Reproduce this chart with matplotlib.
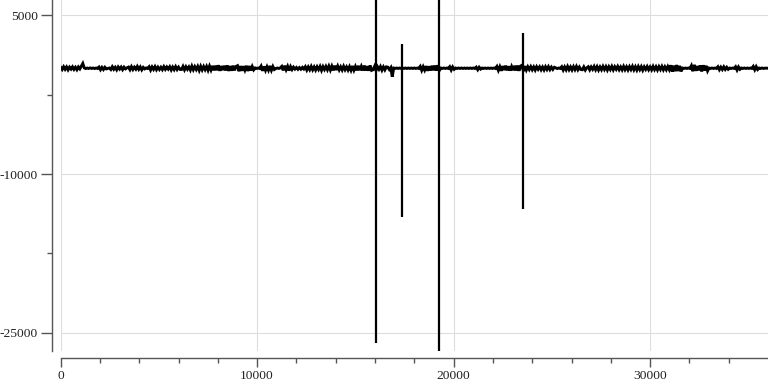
import numpy as np
import matplotlib
matplotlib.use("Agg")
import matplotlib.pyplot as plt
from matplotlib.ticker import FixedLocator, MultipleLocator

# sample spacing of the noisy trace (x units)
STEP = 75

# noisy trace, segment by segment (y units)
noise_segments = [
    [80, -120, 140, -100, 120, -150, 100, -80, 130, -110, 90, -140, 120, -60, 200, 450],
    [30, -30, 20, -20, 30, -20, 20, -30, 20, -20],
    [110, -140, 80, -120, 90, -60],
    [-20, 20],
    [-120, 140, -100, 90, -150, 120, -80, 110, -130, 100, -60, 40,
     110, -140, 150, -120, 100, -90, 170, -100, 120, -150, 80, -60,
     30, -20, 140, -170, 120, -110, 150, -140, 100, -120, 90, -130,
     150, -100, 120, -80, 140, -160, 110, -130, 150, -120, 100, -110],
    [-120, 170, -150, 140, -100, 120, -170, 200, -140, 150,
     -120, 170, -200, 180, -150, 160, -130, 170, -190, 200,
     -160, 220, -200, 240, -190, 280, -240, 200, -170, 230,
     -210, 260, -250, 200, -230, 240, -200, 170],
    [240, -280, 200, -240, 190, -170, 230, -260, 210, -220, 160, -150],
    [30, -20, 20, -30],
    [200, -240, 170, -200, 140, -180, 220, -190, 160, -120],
    [-30, 20, -20, 30],
    [170, -200, 240, -140, 180, -220, 150, -120],
    [100, -80, 70, -100, 60, -90, 80, -70],
    [140, -170, 120, -140, 170, -150, 120, -170, 140, -120,
     170, -200, 150, -120, 170, -140, 200, -170, 190, -200,
     240, -170, 200, -150, 130, -160, 180, -140, 120, -170,
     150, -190, 210, -180, 160, -200, 230, -190, 170, -210,
     250, -220, 190, -230, 260, -200],
    [-140, 170, -200, 140, -100, 160, -180, 120, -150, 130],
    [100, -120, 60, -800],
    [20, -20, 20, -20, 20, -20, 20, -20, 20, -20, 20, -20, 20, -20, 20, -20, 20, -20],
    [170, -200, 140, -170, 200, -240, 180, -210, 230, -190, 250, -220],
    [280, -200],
    [20, -20, 20, -20, 20, -20],
    [140, -170, 120, -100],
    [20, -20, 20, -20, 20, -20, 20, -20, 20, -20, 20, -20, 20, -20],
    [100, -140, 90, -80],
    [20, -20, 20, -20, 20, -20, 20, -20, 20, -20],
    [170, -200, 140, -240, 200, -170, 240, -200, 180, -220, 160, -190,
     230, -210, 250, -240, 200, 280],
    [-280, 200, -170, 140, -120, 150, -140, 120, -170, 140, -100,
     130, -150, 110, -160, 140, -120, 150, -130, 100, -110, 90],
    [30, -30, 20, -20],
    [140, -170, 120, -150, 170, -140, 120, -160, 150, -130, 170, -140, 110, -120],
    [-140, 120, -170, 40, 140, -150, 120, -100, 170, -140,
     150, -170, 120, -140, 170, -120, 150, -170, 140, -120,
     170, -150, 140, -100, 170, -140, 120, -150, 170, -140,
     130, -160, 150, -120, 180, -150, 140, -170, 160, -130,
     150, -180, 130, -110, 160, -140, 120, -150, 170, -130,
     140, -160, 150, -120, 170, -150, 130, -140, 160, -130],
    [280, -320, 240, -280, 300, -260, 220, -300],
    [20, -20, 20, -20, 20, -20],
    [240, -280, 320, -240, 200, -200, 260, -300, 280, -220, 230, -250],
    [20, -20, 20, -20, 20, -20],
    [140, -140, 100, -120, 130, -110, 90, -100],
    [20, -20, 20, -20],
    [140, -170, 120, -100],
    [20, -20, 20, -20, 20, -20, 20, -20],
    [170, -140, 150, -120],
    [20, -20, 20, -20, 10, 0, 0],
]

# the big spikes
spike_x = [16028, 17390, 19240, 23510]
spike_hi = [6450, 2250, 6450, 3300]
spike_lo = [-26000, -14080, -26700, -13330]

noise = np.concatenate([np.array(s, dtype=float) for s in noise_segments])
x_noise = np.arange(len(noise)) * STEP

plt.rcParams["font.family"] = ["Liberation Serif", "DejaVu Serif"]
plt.rcParams["axes.unicode_minus"] = False

fig = plt.figure(figsize=(7.68, 3.84), dpi=100)
ax = fig.add_axes([60.7 / 768, 1 - 350.7 / 384, 1 - 60.7 / 768, 350.7 / 384])

ax.plot(x_noise, noise, color="black", lw=2.1, solid_joinstyle="miter")
ax.vlines(spike_x, spike_lo, spike_hi, color="black", lw=1.6)

ax.set_xlim(0, 36000)
ax.set_ylim(-26700, 6450)

ax.xaxis.set_major_locator(MultipleLocator(10000))
ax.xaxis.set_minor_locator(FixedLocator(list(range(2000, 36000, 2000))))
ax.yaxis.set_major_locator(FixedLocator([-25000, -10000, 5000]))
ax.yaxis.set_minor_locator(FixedLocator([-17500, -2500]))

ax.grid(True, which="major", color="#dddddd", lw=0.8)
ax.set_axisbelow(True)

for side in ("top", "right"):
    ax.spines[side].set_visible(False)
ax.spines["left"].set_position(("outward", 6))
ax.spines["bottom"].set_position(("outward", 5.4))
for side in ("left", "bottom"):
    ax.spines[side].set_color("#555555")
    ax.spines[side].set_linewidth(1.0)

ax.tick_params(which="both", width=1, color="#555555",
               labelsize=9.7, labelcolor="#222222")
ax.tick_params(axis="y", which="major", length=8, pad=2.4)
ax.tick_params(axis="x", which="major", length=6.2, pad=2.5)
ax.tick_params(which="minor", length=3.6)

fig.savefig("out.png", dpi=100)
